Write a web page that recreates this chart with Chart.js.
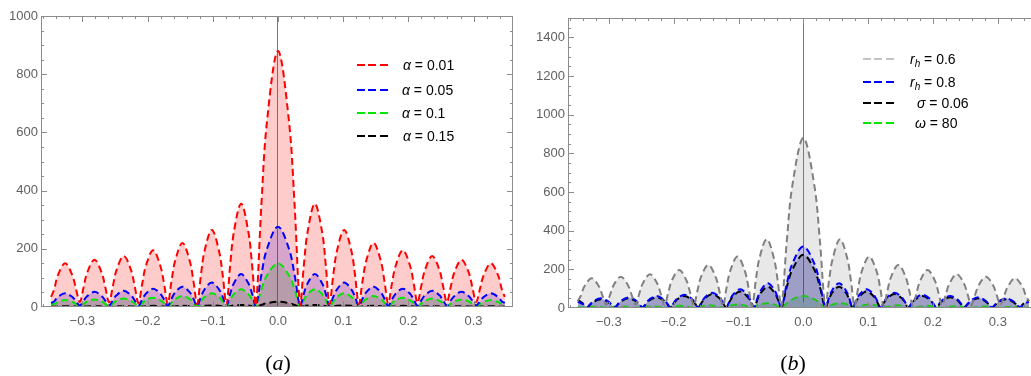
<!DOCTYPE html>
<html>
<head>
<meta charset="utf-8">
<title>Lobes</title>
<script src="https://cdn.jsdelivr.net/npm/chart.js"></script>
<style>
  html, body { margin: 0; padding: 0; background: #fff; overflow: hidden; }
  body { width: 1031px; height: 376px; position: relative; font-family: "Liberation Sans", Arial, sans-serif; }
  .panel { position: absolute; top: 0; height: 376px; }
  #panelA { left: 0; width: 520px; }
  #panelB { left: 520px; width: 530px; }
  .legend { position: absolute; top: 0; font-size: 14px; color: #000; }
  .row { position: absolute; left: 0; height: 18px; white-space: nowrap; }
  .sample { position: absolute; left: 0; top: 8px; width: 31px; height: 2px; }
  .label { position: absolute; top: 0; line-height: 18px; }
  .label sub { font-size: 10px; vertical-align: -3px; line-height: 0; }
  .caption { position: absolute; top: 351px; font-family: "Liberation Serif", serif; font-size: 22px; line-height: 24px; transform: translateX(-50%); }
</style>
</head>
<body>
  <div class="panel" id="panelA">
    <canvas id="chartA"></canvas>
    <div class="legend" style="left: 357px;">
      <div class="row" style="top: 56px;"><div class="sample" style="background: repeating-linear-gradient(90deg, #ff0000 0 8px, transparent 8px 11.5px);"></div><div class="label" style="left: 46px;"><i>α</i> = 0.01</div></div>
      <div class="row" style="top: 81px;"><div class="sample" style="background: repeating-linear-gradient(90deg, #0000ff 0 8px, transparent 8px 11.5px);"></div><div class="label" style="left: 45px;"><i>α</i> = 0.05</div></div>
      <div class="row" style="top: 104px;"><div class="sample" style="background: repeating-linear-gradient(90deg, #00e600 0 8px, transparent 8px 11.5px);"></div><div class="label" style="left: 45px;"><i>α</i> = 0.1</div></div>
      <div class="row" style="top: 127px;"><div class="sample" style="background: repeating-linear-gradient(90deg, #000000 0 8px, transparent 8px 11.5px);"></div><div class="label" style="left: 46px;"><i>α</i> = 0.15</div></div>
    </div>
    <div class="caption" style="left: 278px;">(<i>a</i>)</div>
  </div>

  <div class="panel" id="panelB">
    <canvas id="chartB"></canvas>
    <div class="legend" style="left: 343px;">
      <div class="row" style="top: 50px;"><div class="sample" style="background: repeating-linear-gradient(90deg, #c4c4c4 0 8px, transparent 8px 11.5px);"></div><div class="label" style="left: 47px;"><i>r</i><sub><i>h</i></sub> = 0.6</div></div>
      <div class="row" style="top: 73px;"><div class="sample" style="background: repeating-linear-gradient(90deg, #0000ff 0 8px, transparent 8px 11.5px);"></div><div class="label" style="left: 47px;"><i>r</i><sub><i>h</i></sub> = 0.8</div></div>
      <div class="row" style="top: 94px;"><div class="sample" style="background: repeating-linear-gradient(90deg, #000000 0 8px, transparent 8px 11.5px);"></div><div class="label" style="left: 54px;"><i>σ</i> = 0.06</div></div>
      <div class="row" style="top: 114px;"><div class="sample" style="background: repeating-linear-gradient(90deg, #00e600 0 8px, transparent 8px 11.5px);"></div><div class="label" style="left: 52px;"><i>ω</i> = 80</div></div>
    </div>
    <div class="caption" style="left: 273px;">(<i>b</i>)</div>
  </div>

<script>
// x positions of the sampled points: lobe zeros, 1/8, 1/4, 1/2, 3/4, 7/8 of each lobe (spacing ~0.045)
const xGrid = [-0.348, -0.3434, -0.3378, -0.3265, -0.3153, -0.3096, -0.304, -0.2984, -0.2928, -0.2815, -0.2703,
  -0.2646, -0.259, -0.2534, -0.2478, -0.2365, -0.2253, -0.2196, -0.214, -0.2084, -0.2028, -0.1915, -0.1803, -0.1746,
  -0.169, -0.1634, -0.1578, -0.1465, -0.1353, -0.1296, -0.124, -0.1184, -0.1128, -0.1015, -0.0903, -0.0846, -0.079,
  -0.0734, -0.0678, -0.0565, -0.0453, -0.0396, -0.034, -0.0255, -0.017,
  0,
  0.017, 0.0255, 0.034, 0.0396, 0.0453, 0.0565, 0.0678, 0.0734, 0.079, 0.0846, 0.0903, 0.1015, 0.1128, 0.1184,
  0.124, 0.1296, 0.1353, 0.1465, 0.1578, 0.1634, 0.169, 0.1746, 0.1803, 0.1915, 0.2028, 0.2084, 0.214, 0.2196,
  0.2253, 0.2365, 0.2478, 0.2534, 0.259, 0.2646, 0.2703, 0.2815, 0.2928, 0.2984, 0.304, 0.3096, 0.3153, 0.3265,
  0.3378, 0.3434, 0.348];

// r_h = 0.8 and sigma = 0.06 curves: slightly shorter lobe spacing (~0.043)
const xGridShort = [-0.348, -0.3394, -0.334, -0.3286, -0.3233, -0.3125, -0.3018, -0.2964, -0.291, -0.2856, -0.2803,
  -0.2695, -0.2588, -0.2534, -0.248, -0.2426, -0.2373, -0.2265, -0.2158, -0.2104, -0.205, -0.1996, -0.1943, -0.1835,
  -0.1728, -0.1674, -0.162, -0.1566, -0.1513, -0.1405, -0.1298, -0.1244, -0.119, -0.1136, -0.1083, -0.0975, -0.0868,
  -0.0814, -0.076, -0.0708, -0.0655, -0.055, -0.0445, -0.0393, -0.034, -0.0255, -0.017,
  0,
  0.017, 0.0255, 0.034, 0.0393, 0.0445, 0.055, 0.0655, 0.0708, 0.076, 0.0814, 0.0868, 0.0975, 0.1083, 0.1136, 0.119,
  0.1244, 0.1298, 0.1405, 0.1513, 0.1566, 0.162, 0.1674, 0.1728, 0.1835, 0.1943, 0.1996, 0.205, 0.2104, 0.2158,
  0.2265, 0.2373, 0.2426, 0.248, 0.2534, 0.2588, 0.2695, 0.2803, 0.2856, 0.291, 0.2964, 0.3018, 0.3125, 0.3233,
  0.3286, 0.334, 0.3394, 0.348];

// panel (a)
const alpha001 = [35, 60, 108, 150, 108, 60, 17, 65, 117, 162, 117, 65, 16, 70, 126, 175, 126, 70, 14, 78, 140, 195,
  140, 78, 12, 88, 158, 220, 158, 88, 10, 106, 191, 265, 191, 106, 8, 142, 256, 355, 256, 142, 5, 350, 635,
  880,
  635, 350, 5, 142, 256, 355, 256, 142, 8, 106, 191, 265, 191, 106, 10, 88, 158, 220, 158, 88, 12, 78, 140, 195, 140,
  78, 14, 70, 126, 175, 126, 70, 16, 65, 117, 162, 117, 65, 17, 60, 108, 150, 108, 60, 35];
const alpha005 = [14, 19, 34, 47, 34, 19, 5, 21, 37, 52, 37, 21, 5, 22, 40, 56, 40, 22, 4, 25, 45, 63, 45, 25, 4,
  28, 50, 70, 50, 28, 3, 34, 60, 84, 60, 34, 3, 45, 81, 113, 81, 45, 2, 110, 199,
  276,
  199, 110, 2, 45, 81, 113, 81, 45, 3, 34, 60, 84, 60, 34, 3, 28, 50, 70, 50, 28, 4, 25, 45, 63, 45, 25, 4, 22, 40,
  56, 40, 22, 5, 21, 37, 52, 37, 21, 5, 19, 34, 47, 34, 19, 14];
const alpha01 = [12, 10, 17, 24, 17, 10, 3, 10, 19, 26, 19, 10, 3, 12, 21, 29, 21, 12, 2, 13, 23, 32, 23, 13, 2,
  15, 27, 38, 27, 15, 2, 19, 34, 47, 34, 19, 1, 24, 44, 61, 44, 24, 1, 60, 108,
  150,
  108, 60, 1, 24, 44, 61, 44, 24, 1, 19, 34, 47, 34, 19, 2, 15, 27, 38, 27, 15, 2, 13, 23, 32, 23, 13, 2, 12, 21, 29,
  21, 12, 3, 10, 19, 26, 19, 10, 3, 10, 17, 24, 17, 10, 12];
const alpha015 = [2, 1, 2, 3, 2, 1, 0, 1, 2, 3, 2, 1, 0, 1, 2, 3, 2, 1, 0, 2, 3, 4, 3, 2, 0, 2, 3, 4, 3, 2, 0,
  2, 4, 5, 4, 2, 0, 3, 5, 7, 5, 3, 0, 7, 13,
  18,
  13, 7, 0, 3, 5, 7, 5, 3, 0, 2, 4, 5, 4, 2, 0, 2, 3, 4, 3, 2, 0, 2, 3, 4, 3, 2, 0, 1, 2, 3, 2, 1, 0, 1, 2, 3, 2, 1,
  0, 1, 2, 3, 2, 1, 2];

// panel (b)
const rh06 = [35, 62, 111, 154, 111, 62, 17, 65, 117, 162, 117, 65, 16, 70, 126, 175, 126, 70, 14, 79, 142, 197, 142,
  79, 12, 89, 161, 223, 161, 89, 10, 106, 192, 266, 192, 106, 8, 142, 256, 356, 256, 142, 5, 348, 633,
  879,
  633, 348, 5, 142, 256, 356, 256, 142, 8, 106, 192, 266, 192, 106, 10, 89, 161, 223, 161, 89, 12, 79, 142, 197, 142,
  79, 14, 70, 126, 175, 126, 70, 16, 65, 117, 162, 117, 65, 17, 62, 111, 154, 111, 62, 35];
const rh08 = [33, 19, 3, 20, 36, 50, 36, 20, 3, 22, 40, 55, 40, 22, 3, 25, 45, 62, 45, 25, 3, 28, 50, 69, 50, 28, 3,
  32, 57, 79, 57, 32, 2, 39, 70, 97, 70, 39, 2, 51, 92, 128, 92, 51, 2, 127, 229,
  318,
  229, 127, 2, 51, 92, 128, 92, 51, 2, 39, 70, 97, 70, 39, 2, 32, 57, 79, 57, 32, 3, 28, 50, 69, 50, 28, 3, 25, 45,
  62, 45, 25, 3, 22, 40, 55, 40, 22, 3, 20, 36, 50, 36, 20, 3, 19, 33];
const sigma006 = [42, 22, 2, 18, 32, 45, 32, 18, 2, 20, 36, 50, 36, 20, 2, 22, 40, 55, 40, 22, 2, 25, 45, 62, 45, 25, 2,
  29, 52, 72, 52, 29, 2, 34, 61, 85, 61, 34, 1, 44, 79, 110, 79, 44, 1, 110, 198,
  275,
  198, 110, 1, 44, 79, 110, 79, 44, 1, 34, 61, 85, 61, 34, 2, 29, 52, 72, 52, 29, 2, 25, 45, 62, 45, 25, 2, 22, 40,
  55, 40, 22, 2, 20, 36, 50, 36, 20, 2, 18, 32, 45, 32, 18, 2, 22, 42];
const omega80 = [4, 3, 5, 7, 5, 3, 1, 3, 6, 8, 6, 3, 1, 4, 6, 9, 6, 4, 1, 4, 8, 11, 8, 4, 1, 6, 10, 14, 10, 6, 1,
  7, 13, 18, 13, 7, 1, 10, 18, 25, 18, 10, 1, 25, 45,
  62,
  45, 25, 1, 10, 18, 25, 18, 10, 1, 7, 13, 18, 13, 7, 1, 6, 10, 14, 10, 6, 1, 4, 8, 11, 8, 4, 1, 4, 6, 9, 6, 4, 1,
  3, 6, 8, 6, 3, 1, 3, 5, 7, 5, 3, 4];

const xTicks = [-0.3, -0.2, -0.1, 0, 0.1, 0.2, 0.3];
const yTicksA = [0, 200, 400, 600, 800, 1000];
const yTicksB = [0, 200, 400, 600, 800, 1000, 1200, 1400];

function pts(xs, ys) {
  return xs.map((x, i) => ({ x: x, y: ys[i] }));
}

function series(label, xs, ys, line, fill) {
  return {
    label: label,
    data: pts(xs, ys),
    borderColor: line,
    backgroundColor: fill,
    borderWidth: 2,
    borderDash: [7, 4],
    pointRadius: 0,
    tension: 0.35,
    fill: 'origin'
  };
}

function fmtX(v) {
  if (Math.abs(v) < 1e-9) return '0.0';
  return (v < 0 ? '\u2212' : '') + Math.abs(v).toFixed(1);
}

// Mathematica-like frame with inward ticks on all four sides
const framePlugin = {
  id: 'frame',
  afterDraw(chart, args, opts) {
    const ctx = chart.ctx;
    const a = chart.chartArea;
    const x = chart.scales.x, y = chart.scales.y;
    ctx.save();
    ctx.strokeStyle = '#8c8c8c';
    ctx.lineWidth = 1;
    ctx.strokeRect(a.left + 0.5, a.top + 0.5, a.right - a.left - 1, a.bottom - a.top - 1);
    ctx.beginPath();
    function xt(v, len) {
      const p = Math.round(x.getPixelForValue(v)) + 0.5;
      if (p < a.left || p > a.right) return;
      ctx.moveTo(p, a.bottom); ctx.lineTo(p, a.bottom - len);
      ctx.moveTo(p, a.top); ctx.lineTo(p, a.top + len);
    }
    function yt(v, len) {
      const p = Math.round(y.getPixelForValue(v)) + 0.5;
      if (p < a.top || p > a.bottom) return;
      ctx.moveTo(a.left, p); ctx.lineTo(a.left + len, p);
      ctx.moveTo(a.right, p); ctx.lineTo(a.right - len, p);
    }
    for (let v = Math.ceil(x.min / opts.xMinor) * opts.xMinor; v <= x.max; v += opts.xMinor) xt(v, 3);
    for (let v = 0; v <= y.max; v += opts.yMinor) yt(v, 3);
    x.ticks.forEach(t => xt(t.value, 6));
    y.ticks.forEach(t => yt(t.value, 6));
    ctx.stroke();
    ctx.restore();
  }
};

function makeOptions(xmin, xmax, ymax, yTicks, yWidth, xHeight, padding) {
  const tickFont = { family: 'Liberation Sans', size: 13 };
  return {
    responsive: false,
    animation: false,
    layout: { padding: padding },
    plugins: {
      legend: { display: false },
      tooltip: { enabled: false },
      filler: { drawTime: 'beforeDatasetsDraw' },
      frame: { xMinor: 0.02, yMinor: 50 }
    },
    scales: {
      x: {
        type: 'linear',
        min: xmin,
        max: xmax,
        afterBuildTicks: s => { s.ticks = xTicks.map(v => ({ value: v })); },
        afterFit: s => { s.height = xHeight; },
        ticks: { callback: fmtX, color: '#606060', font: tickFont, padding: 7, maxRotation: 0, autoSkip: false },
        grid: {
          drawTicks: false,
          lineWidth: 1,
          color: ctx => (ctx.tick && Math.abs(ctx.tick.value) < 1e-9) ? '#7a7a7a' : 'rgba(0,0,0,0)'
        },
        border: { display: false }
      },
      y: {
        min: 0,
        max: ymax,
        afterBuildTicks: s => { s.ticks = yTicks.map(v => ({ value: v })); },
        afterFit: s => { s.width = yWidth; },
        ticks: { callback: v => String(v), color: '#606060', font: tickFont, padding: 3 },
        grid: { display: false, drawTicks: false },
        border: { display: false }
      }
    }
  };
}

const canvasA = document.getElementById('chartA');
canvasA.width = 520; canvasA.height = 376;
new Chart(canvasA, {
  type: 'line',
  data: {
    datasets: [
      series('α = 0.01', xGrid, alpha001, '#ff0000', 'rgba(255,0,0,0.2)'),
      series('α = 0.05', xGrid, alpha005, '#0000ff', 'rgba(0,0,255,0.2)'),
      series('α = 0.1', xGrid, alpha01, '#00e600', 'rgba(0,200,0,0.2)'),
      series('α = 0.15', xGrid, alpha015, '#000000', 'rgba(0,0,0,0.2)')
    ]
  },
  options: makeOptions(-0.3635, 0.3605, 1000, yTicksA, 38, 69, { left: 3, top: 16, right: 7, bottom: 0 }),
  plugins: [framePlugin]
});

const canvasB = document.getElementById('chartB');
canvasB.width = 530; canvasB.height = 376;
new Chart(canvasB, {
  type: 'line',
  data: {
    datasets: [
      series('r_h = 0.6', xGrid, rh06, '#808080', 'rgba(128,128,128,0.18)'),
      series('r_h = 0.8', xGridShort, rh08, '#0000ff', 'rgba(0,0,255,0.2)'),
      series('σ = 0.06', xGridShort, sigma006, '#000000', 'rgba(0,0,0,0.2)'),
      series('ω = 80', xGrid, omega80, '#22c422', 'rgba(0,200,0,0.2)')
    ]
  },
  options: makeOptions(-0.363, 0.365, 1500, yTicksB, 45, 68, { left: 3, top: 18, right: 10, bottom: 0 }),
  plugins: [framePlugin]
});
</script>
</body>
</html>
